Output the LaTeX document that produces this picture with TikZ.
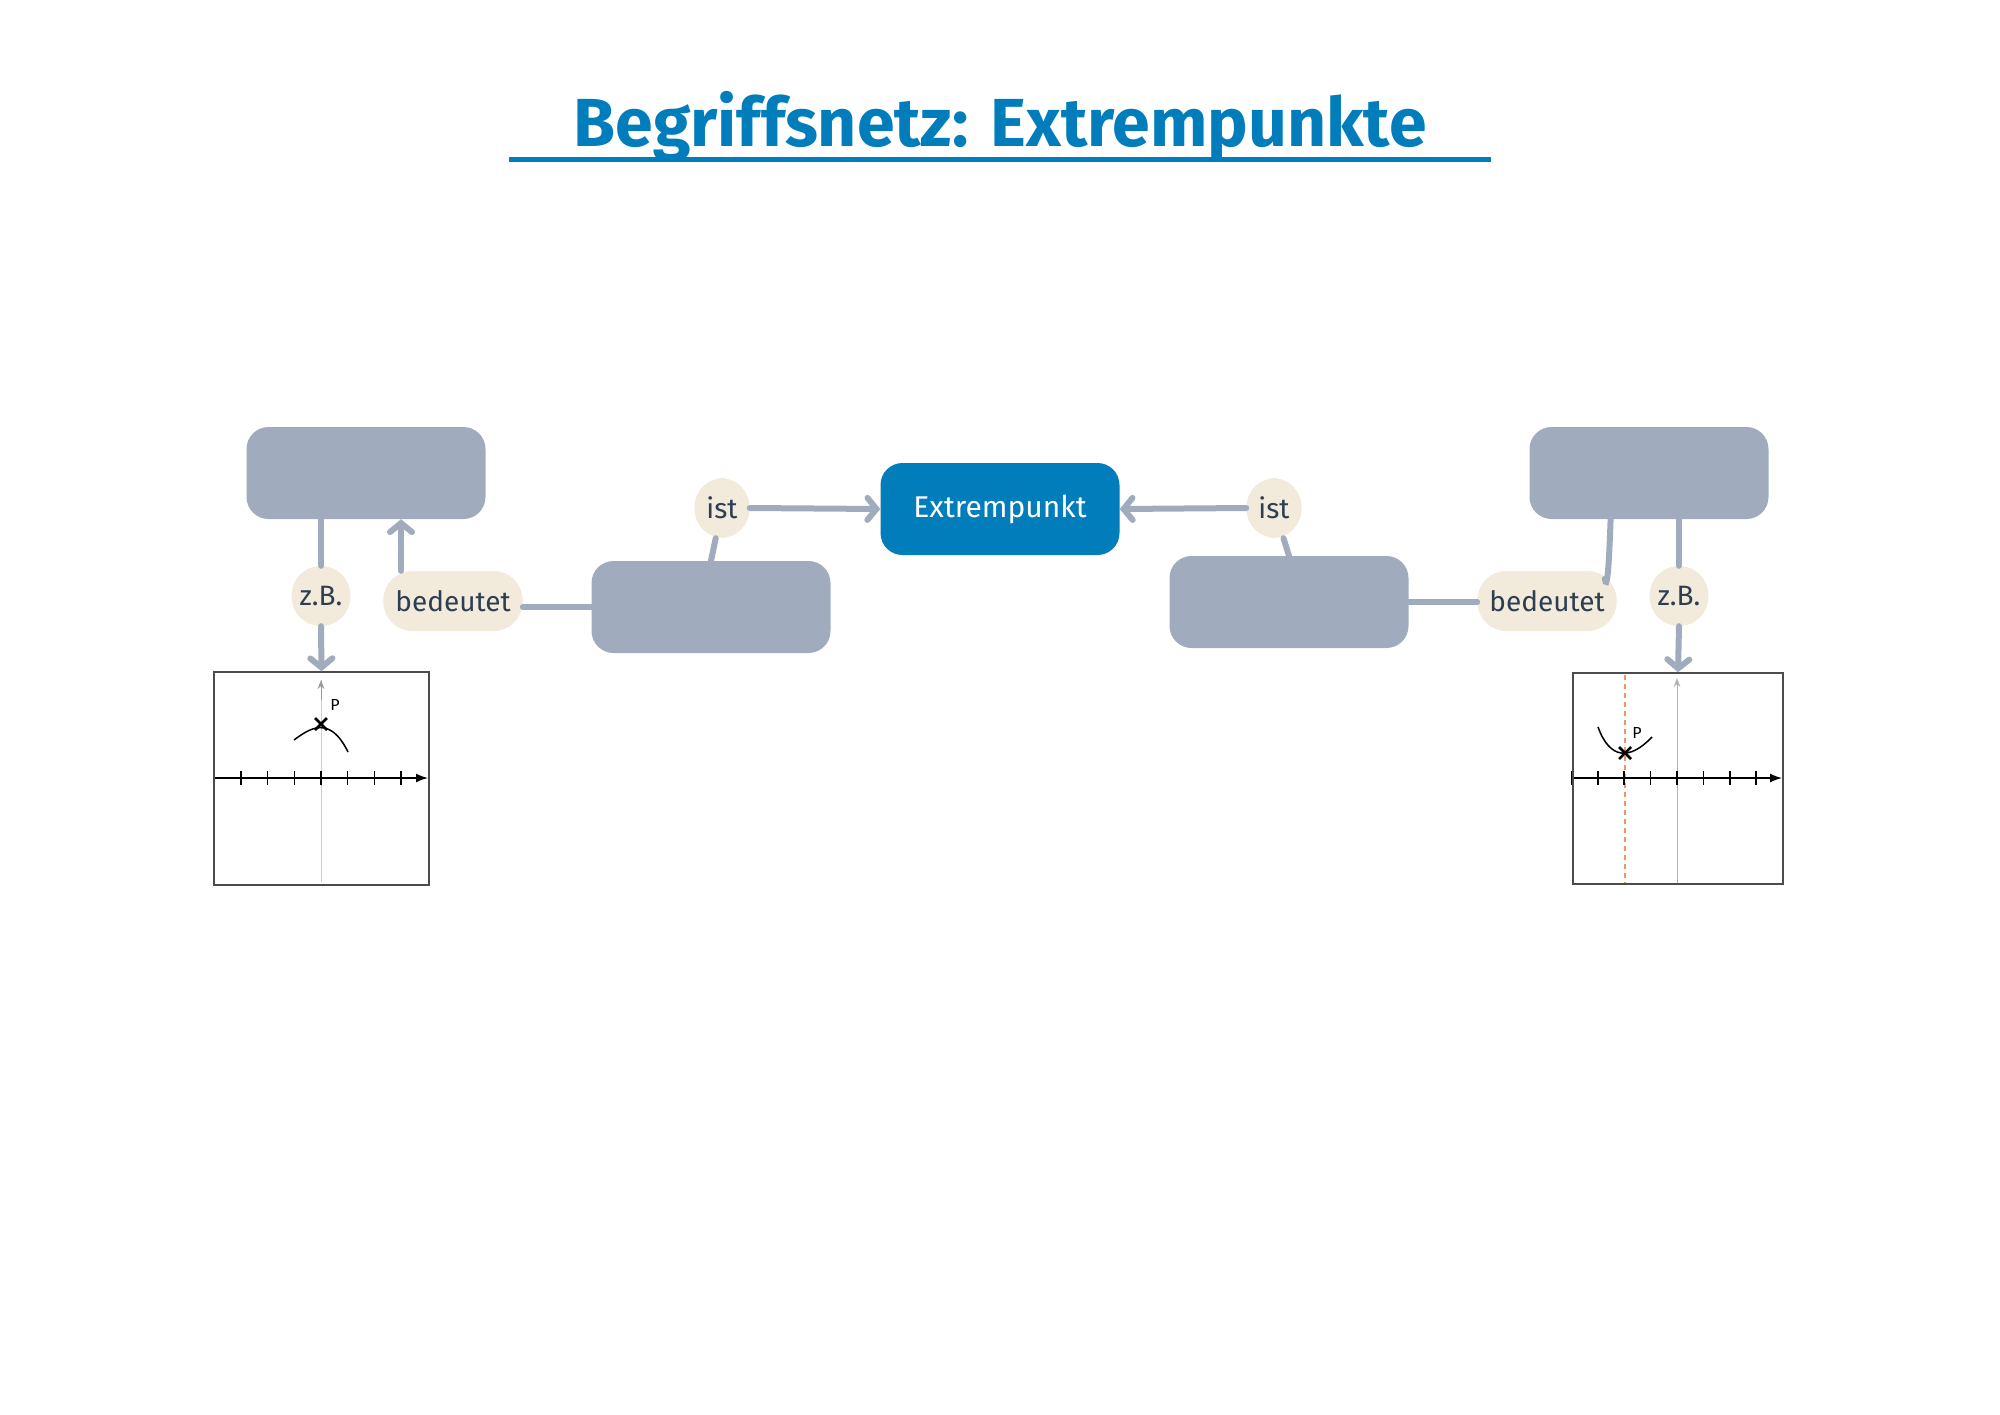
\documentclass[tikz,border=0pt]{standalone}
\usepackage{fontspec}
\setmainfont{Fira Sans}
\usetikzlibrary{arrows.meta}
\definecolor{blauton}{RGB}{0,125,186}
\definecolor{grauton}{RGB}{160,172,189}
\definecolor{cremeton}{RGB}{242,234,219}
\definecolor{textton}{RGB}{45,62,80}
\definecolor{orangeton}{RGB}{240,150,100}
\tikzset{
  begriff/.style={rectangle, rounded corners=22pt, fill=grauton, minimum width=239pt, minimum height=92pt},
  haupt/.style={begriff, fill=blauton, text=white, font=\fontsize{30}{34}\selectfont},
  beschriftung/.style={rectangle, rounded corners=29pt, fill=cremeton, text=textton, minimum height=60pt, inner xsep=12pt, font=\fontsize{28}{32}\selectfont},
  verbindung/.style={grauton, line width=6pt, line cap=round},
  pfeil/.style={verbindung, -{Straight Barb[length=9pt,width=22pt,line cap=round]}},
  rahmen/.style={draw=black!70, line width=1.5pt}
}
\begin{document}
\begin{tikzpicture}[x=1pt,y=-1pt]
  \useasboundingbox (0,0) rectangle (2000,1414);
  % Titel
  \node[text=blauton, font=\fontsize{68}{76}\selectfont\bfseries] (titel) at (1000,126) {Begriffsnetz: Extrempunkte};
  \draw[blauton, line width=5pt] (509,159) -- (1491,159);

  % Begriffe
  \node[begriff] (obenlinks) at (366,473) {};
  \node[begriff] (mittelinks) at (711,607) {};
  \node[haupt] (extrem) at (1000,509) {Extrempunkt};
  \node[begriff] (mitterechts) at (1289,602) {};
  \node[begriff] (obenrechts) at (1649,473) {};

  % Beschriftungen
  \node[beschriftung] (istlinks) at (722,508) {ist};
  \node[beschriftung] (istrechts) at (1274,508) {ist};
  \node[beschriftung] (bedlinks) at (453,601) {bedeutet};
  \node[beschriftung] (bedrechts) at (1547,601) {bedeutet};
  \node[beschriftung, inner xsep=8pt] (zblinks) at (321,596) {z.B.};
  \node[beschriftung, inner xsep=8pt] (zbrechts) at (1679,596) {z.B.};

  % Graphen
  \node[rahmen, minimum width=215pt, minimum height=213pt, inner sep=0pt] (graphlinks) at (321.5,778.5) {};
  \node[rahmen, minimum width=210pt, minimum height=211pt, inner sep=0pt] (graphrechts) at (1678,778.5) {};

  % Verbindungen
  \draw[verbindung] (mittelinks.north -| 711,0) -- (istlinks);
  \draw[pfeil] (istlinks.east) -- (extrem.west);
  \draw[verbindung] (mitterechts.north -| 1289,0) -- (istrechts);
  \draw[pfeil] (istrechts.west) -- (extrem.east);
  \draw[verbindung] (mittelinks.west) -- (bedlinks.east |- mittelinks.west);
  \draw[pfeil] (bedlinks.north -| 401,0) -- (obenlinks.south -| 401,0);
  \draw[verbindung] (mitterechts.east) -- (bedrechts.west |- mitterechts.east);
  \draw[pfeil] (bedrechts.north east) ++(-12,8) to[out=-80,in=90] (obenrechts.south -| 1611,0);
  \draw[verbindung] (obenlinks.south -| zblinks) -- (zblinks.north);
  \draw[pfeil] (zblinks.south) -- (graphlinks.north);
  \draw[verbindung] (obenrechts.south -| zbrechts) -- (zbrechts.north);
  \draw[pfeil] (zbrechts.south) -- (graphrechts.north);

  % Inhalt Graph links (Hochpunkt)
  \draw[orangeton!60, line width=1pt] (321,882) -- (321,680);
  \draw[black!40, line width=1pt, -{Stealth[length=9pt]}] (321,700) -- (321,680);
  \draw[black, line width=1.5pt, -{Latex[length=12pt]}] (215,778) -- (428,778);
  \foreach \i in {-3,...,3}
    \draw[black, line width=1.5pt] (321+26.7*\i,771) -- (321+26.7*\i,785);
  \draw[black, line width=1.5pt] (294,740) .. controls (310,728) and (330,715) .. (348,752);
  \draw[black, line width=2.5pt] (315,718) -- (327,730) (315,730) -- (327,718);
  \node[font=\fontsize{16}{18}\selectfont] (plinks) at (335,705) {P};

  % Inhalt Graph rechts (Tiefpunkt)
  \draw[black!30, line width=1pt, -{Stealth[length=9pt]}] (1677,883) -- (1677,678);
  \draw[orangeton, line width=1.5pt, dash pattern=on 5pt off 4pt] (1625,675) -- (1625,883);
  \draw[black, line width=1.5pt, -{Latex[length=12pt]}] (1574,778) -- (1782,778);
  \foreach \i in {-3,...,4}
    \draw[black, line width=1.5pt] (1677+26.4*\i-26.4,771) -- (1677+26.4*\i-26.4,785);
  \draw[black, line width=1.5pt] (1598,727) .. controls (1610,760) and (1630,760) .. (1652,737);
  \draw[black, line width=2.5pt] (1619,747) -- (1631,759) (1619,759) -- (1631,747);
  \node[font=\fontsize{16}{18}\selectfont] (prechts) at (1637,733) {P};
\end{tikzpicture}
\end{document}
